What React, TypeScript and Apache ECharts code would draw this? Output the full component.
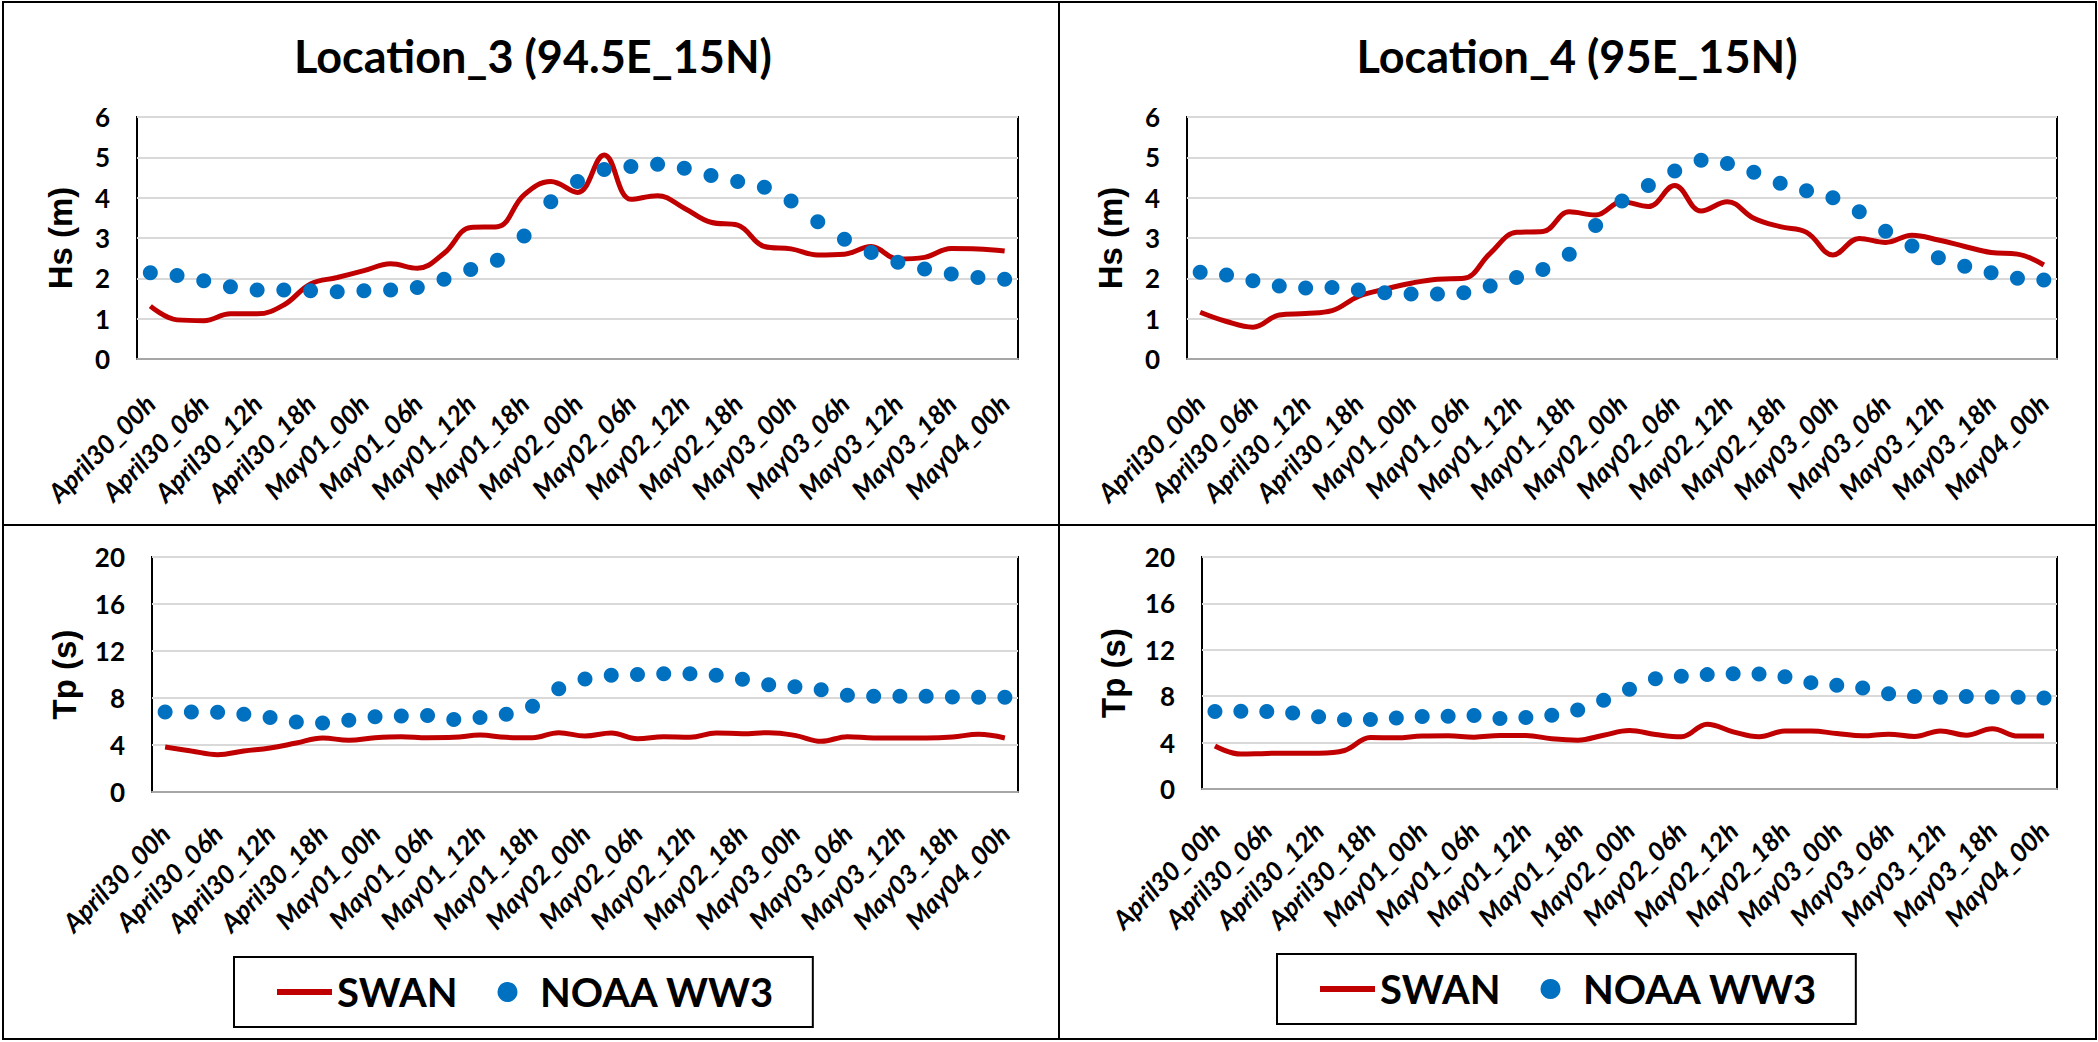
import React, { useEffect, useRef } from "react";
import * as echarts from "echarts";

const categories = [
  "April30_00h", "April30_03h", "April30_06h", "April30_09h", "April30_12h", "April30_15h", "April30_18h", "April30_21h",
  "May01_00h", "May01_03h", "May01_06h", "May01_09h", "May01_12h", "May01_15h", "May01_18h", "May01_21h",
  "May02_00h", "May02_03h", "May02_06h", "May02_09h", "May02_12h", "May02_15h", "May02_18h", "May02_21h",
  "May03_00h", "May03_03h", "May03_06h", "May03_09h", "May03_12h", "May03_15h", "May03_18h", "May03_21h",
  "May04_00h",
];

const hsSwanLoc3 = [1.31, 0.97, 0.95, 1.12, 1.12, 1.34, 1.86, 2.02, 2.19, 2.36, 2.25, 2.62, 3.26, 3.28, 4.07, 4.40, 4.13, 5.06, 3.96, 4.05, 3.74, 3.39, 3.32, 2.79, 2.73, 2.58, 2.60, 2.79, 2.48, 2.52, 2.74, 2.73, 2.68];
const hsWw3Loc3 = [2.14, 2.07, 1.94, 1.79, 1.71, 1.71, 1.69, 1.67, 1.69, 1.71, 1.77, 1.98, 2.22, 2.45, 3.05, 3.90, 4.40, 4.70, 4.77, 4.83, 4.73, 4.55, 4.40, 4.26, 3.92, 3.40, 2.97, 2.64, 2.40, 2.23, 2.11, 2.02, 1.98];
const hsSwanLoc4 = [1.16, 0.93, 0.79, 1.09, 1.13, 1.20, 1.55, 1.73, 1.88, 1.98, 2.00, 2.62, 3.14, 3.16, 3.65, 3.57, 3.90, 3.78, 4.30, 3.67, 3.90, 3.49, 3.28, 3.14, 2.58, 2.99, 2.89, 3.07, 2.95, 2.79, 2.64, 2.60, 2.33];
const hsWw3Loc4 = [2.15, 2.08, 1.94, 1.81, 1.76, 1.77, 1.71, 1.64, 1.61, 1.61, 1.64, 1.81, 2.02, 2.22, 2.60, 3.31, 3.92, 4.30, 4.66, 4.93, 4.85, 4.63, 4.36, 4.17, 4.00, 3.65, 3.17, 2.80, 2.51, 2.30, 2.14, 2.00, 1.96];
const tpSwanLoc3 = [3.83, 3.49, 3.18, 3.49, 3.74, 4.17, 4.60, 4.40, 4.62, 4.71, 4.62, 4.65, 4.85, 4.65, 4.62, 5.05, 4.76, 5.02, 4.54, 4.71, 4.65, 5.02, 4.96, 5.05, 4.82, 4.31, 4.71, 4.60, 4.60, 4.60, 4.68, 4.91, 4.60];
const tpWw3Loc3 = [6.81, 6.81, 6.78, 6.61, 6.35, 5.96, 5.87, 6.10, 6.41, 6.47, 6.52, 6.16, 6.33, 6.61, 7.29, 8.79, 9.62, 9.93, 10.01, 10.07, 10.07, 9.93, 9.59, 9.13, 8.96, 8.71, 8.23, 8.14, 8.14, 8.14, 8.09, 8.06, 8.06];
const tpSwanLoc4 = [3.70, 3.01, 3.07, 3.09, 3.09, 3.32, 4.44, 4.41, 4.56, 4.58, 4.47, 4.61, 4.61, 4.33, 4.21, 4.64, 5.04, 4.70, 4.50, 5.59, 4.93, 4.50, 4.99, 4.99, 4.79, 4.58, 4.73, 4.53, 5.01, 4.64, 5.19, 4.56, 4.56];
const tpWw3Loc4 = [6.68, 6.70, 6.68, 6.56, 6.22, 5.96, 5.99, 6.13, 6.25, 6.28, 6.33, 6.07, 6.16, 6.36, 6.82, 7.65, 8.60, 9.51, 9.71, 9.86, 9.94, 9.91, 9.68, 9.17, 8.94, 8.71, 8.22, 7.97, 7.91, 7.97, 7.94, 7.91, 7.85];

const titles = ["Location_3 (94.5E_15N)", "Location_4 (95E_15N)"];
const seriesNames = ["SWAN", "NOAA WW3"];
const hsAxisName = "Hs (m)";
const tpAxisName = "Tp (s)";
const hsScale = { min: 0, max: 6, interval: 1 };
const tpScale = { min: 0, max: 20, interval: 4 };

const SWAN_COLOR = "#c00000";
const WW3_COLOR = "#0070c0";
const FONT = "Lato, 'Open Sans', sans-serif";
const AXIS_NAME_FONT = "'Liberation Sans', Arial, sans-serif";

const panels = [
  { grid: { left: 137, top: 117, width: 881, height: 242 }, name: hsAxisName, nameGap: 60, scale: hsScale, swan: hsSwanLoc3, ww3: hsWw3Loc3, labelMargin: 40 },
  { grid: { left: 1187, top: 117, width: 870, height: 242 }, name: hsAxisName, nameGap: 60, scale: hsScale, swan: hsSwanLoc4, ww3: hsWw3Loc4, labelMargin: 40 },
  { grid: { left: 152, top: 557, width: 866, height: 235 }, name: tpAxisName, nameGap: 71, scale: tpScale, swan: tpSwanLoc3, ww3: tpWw3Loc3, labelMargin: 37 },
  { grid: { left: 1202, top: 557, width: 855, height: 232 }, name: tpAxisName, nameGap: 72, scale: tpScale, swan: tpSwanLoc4, ww3: tpWw3Loc4, labelMargin: 37 },
];

function makeLegend(left: number, top: number) {
  return {
    left,
    top,
    orient: "horizontal",
    selectedMode: false,
    data: [
      {
        name: seriesNames[0],
        lineStyle: { width: 6 },
        itemStyle: { opacity: 0, color: "rgba(0,0,0,0)", borderWidth: 0 },
      },
      { name: seriesNames[1], icon: "circle" },
    ],
    itemWidth: 55,
    itemHeight: 20,
    itemGap: 40,
    padding: [15, 38, 15, 40],
    borderColor: "#000",
    borderWidth: 2,
    backgroundColor: "#fff",
    textStyle: { fontFamily: FONT, fontSize: 40, fontWeight: "bold", color: "#000" },
  };
}

export default function App() {
  const ref = useRef<HTMLDivElement>(null);

  useEffect(() => {
    document.body.style.margin = "0";
    const chart = echarts.init(ref.current as HTMLDivElement, null, { renderer: "svg" });

    const grids = panels.map((p) => ({
      ...p.grid,
      show: true,
      borderColor: "#000",
      borderWidth: 2,
      backgroundColor: "transparent",
      containLabel: false,
    }));

    const xAxes = panels.map((p, i) => ({
      type: "category",
      gridIndex: i,
      data: categories,
      boundaryGap: true,
      axisTick: { show: false },
      axisLine: { show: true, lineStyle: { color: "#a6a6a6", width: 2 } },
      splitLine: { show: false },
      axisLabel: {
        interval: 1,
        rotate: 45,
        margin: p.labelMargin,
        fontFamily: FONT,
        fontSize: 26,
        fontWeight: "bold",
        fontStyle: "italic",
        color: "#000",
      },
    }));

    const yAxes = panels.map((p, i) => ({
      type: "value",
      gridIndex: i,
      min: p.scale.min,
      max: p.scale.max,
      interval: p.scale.interval,
      axisLine: { show: false },
      axisTick: { show: false },
      splitLine: { show: true, lineStyle: { color: "#d9d9d9", width: 2 } },
      axisLabel: { margin: 27, fontFamily: FONT, fontSize: 26, fontWeight: "bold", color: "#000" },
      name: p.name,
      nameLocation: "middle",
      nameGap: p.nameGap,
      nameTextStyle: { fontFamily: AXIS_NAME_FONT, fontSize: 33, fontWeight: "bold", color: "#000" },
    }));

    const series: any[] = [];
    panels.forEach((p, i) => {
      series.push({
        name: seriesNames[0],
        type: "line",
        xAxisIndex: i,
        yAxisIndex: i,
        data: p.swan,
        smooth: 0.4,
        symbol: "none",
        lineStyle: { color: SWAN_COLOR, width: 5 },
        itemStyle: { color: SWAN_COLOR },
        z: 2,
      });
    });
    panels.forEach((p, i) => {
      series.push({
        name: seriesNames[1],
        type: "scatter",
        xAxisIndex: i,
        yAxisIndex: i,
        data: p.ww3,
        symbol: "circle",
        symbolSize: 15,
        itemStyle: { color: WW3_COLOR, opacity: 1 },
        z: 3,
      });
    });

    const graphic: any[] = [
      { type: "rect", silent: true, shape: { x: 3, y: 2, width: 2093, height: 1037 }, style: { fill: "none", stroke: "#000", lineWidth: 2 } },
      { type: "line", silent: true, shape: { x1: 1059, y1: 2, x2: 1059, y2: 1039 }, style: { stroke: "#000", lineWidth: 2 } },
      { type: "line", silent: true, shape: { x1: 3, y1: 525, x2: 2096, y2: 525 }, style: { stroke: "#000", lineWidth: 2 } },
      {
        type: "text", silent: true, x: 533, y: 56,
        style: { text: titles[0], fontFamily: FONT, fontSize: 45, fontWeight: "bold", fill: "#000", align: "center", verticalAlign: "middle" },
      },
      {
        type: "text", silent: true, x: 1577, y: 56,
        style: { text: titles[1], fontFamily: FONT, fontSize: 45, fontWeight: "bold", fill: "#000", align: "center", verticalAlign: "middle" },
      },
    ];

    chart.setOption({
      animation: false,
      backgroundColor: "#fff",
      grid: grids,
      xAxis: xAxes,
      yAxis: yAxes,
      legend: [makeLegend(234, 957), makeLegend(1277, 954)],
      series,
      graphic,
    });

    return () => chart.dispose();
  }, []);

  return (
    <div
      ref={ref}
      style={{ position: "absolute", left: 0, top: 0, width: 2098, height: 1042, background: "#fff" }}
    />
  );
}
